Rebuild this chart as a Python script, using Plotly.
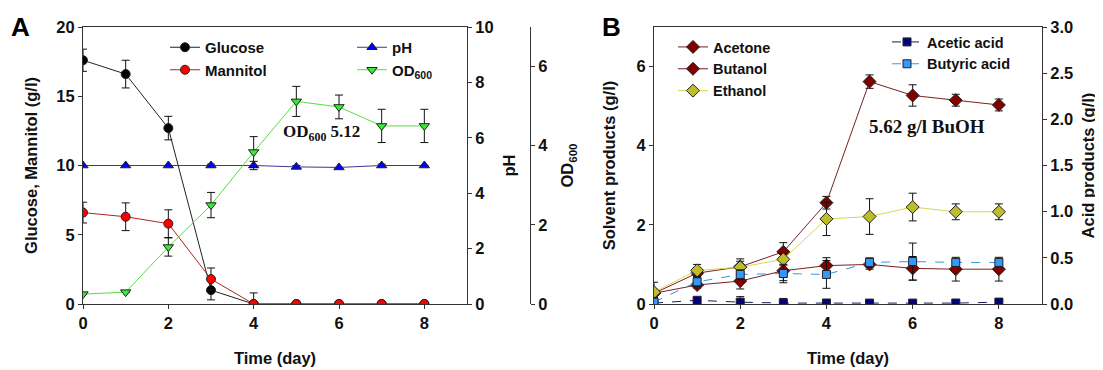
import plotly.graph_objects as go

days = [0, 1, 2, 3, 4, 5, 6, 7, 8]

# Panel A
glucose = [17.6, 16.6, 12.7, 1.0, 0, 0, 0, 0, 0]
glucose_err = [0.8, 1.0, 0.85, 0.7, 0.8, 0, 0, 0, 0]
glucose_err_minus = [0.8, 1.0, 0.85, 0.7, 0, 0, 0, 0, 0]
mannitol = [6.6, 6.3, 5.8, 1.8, 0, 0, 0, 0, 0]
mannitol_err = [0.75, 1.0, 1.0, 0.8, 0, 0, 0, 0, 0]
ph = [5.0, 5.0, 5.0, 5.0, 5.0, 4.95, 4.93, 5.0, 5.0]
ph_err = [0, 0, 0, 0.05, 0.15, 0.05, 0, 0.05, 0]
od600 = [0.25, 0.3, 1.44, 2.5, 3.84, 5.12, 4.98, 4.5, 4.5]
od600_err = [0, 0, 0.23, 0.32, 0.39, 0.38, 0.3, 0.42, 0.42]

# Panel B
acetone = [0.27, 0.48, 0.58, 0.84, 0.97, 1.0, 0.9, 0.88, 0.88]
acetone_err = [0.28, 0.08, 0.2, 0.25, 0.2, 0.12, 0.3, 0.3, 0.3]
butanol = [0.27, 0.78, 0.94, 1.32, 2.56, 5.62, 5.27, 5.15, 5.03]
butanol_err = [0.1, 0.1, 0.2, 0.23, 0.16, 0.17, 0.27, 0.15, 0.15]
ethanol = [0.3, 0.85, 0.93, 1.13, 2.15, 2.21, 2.45, 2.33, 2.33]
ethanol_err = [0, 0.15, 0.15, 0.15, 0.42, 0.45, 0.35, 0.2, 0.2]
acetic = [0.01, 0.04, 0.02, 0.01, 0.01, 0.01, 0.01, 0.01, 0.02]
acetic_err = [0, 0, 0.06, 0.05, 0.04, 0.02, 0.0, 0.04, 0.04]
butyric = [0.02, 0.24, 0.32, 0.33, 0.32, 0.45, 0.46, 0.45, 0.45]
butyric_err = [0.05, 0.05, 0.05, 0.1, 0.15, 0.05, 0.2, 0.03, 0.03]

FONT = "Arial, Liberation Sans, sans-serif"
SERIF = "Times New Roman, Liberation Serif, serif"

def err(arr, minus=None):
    d = dict(type="data", array=arr, visible=True, color="#111", thickness=1, width=4)
    if minus is not None:
        d["symmetric"] = False
        d["arrayminus"] = minus
    return d

def mk(sym, color, size=9):
    return dict(symbol=sym, color=color, size=size, line=dict(color="#222", width=1))

fig = go.Figure()

fig.add_trace(go.Scatter(x=days, y=glucose, name="Glucose", mode="lines+markers",
                         line=dict(color="#222", width=1), marker=mk("circle", "#000"),
                         error_y=err(glucose_err, glucose_err_minus), xaxis="x", yaxis="y", legend="legend"))
fig.add_trace(go.Scatter(x=days, y=mannitol, name="Mannitol", mode="lines+markers",
                         line=dict(color="#B22222", width=1), marker=mk("circle", "#FF0000"),
                         error_y=err(mannitol_err), xaxis="x", yaxis="y", legend="legend"))
fig.add_trace(go.Scatter(x=days, y=ph, name="pH", mode="lines+markers",
                         line=dict(color="#3A3A8A", width=1), marker=mk("triangle-up", "#0000FF"),
                         error_y=err(ph_err), xaxis="x", yaxis="y2", legend="legend2"))
fig.add_trace(go.Scatter(x=days, y=od600, name="OD<sub>600</sub>", mode="lines+markers",
                         line=dict(color="#55DD44", width=1), marker=mk("triangle-down", "#33EE33"),
                         error_y=err(od600_err), xaxis="x", yaxis="y3", legend="legend2"))

fig.add_trace(go.Scatter(x=days, y=acetone, name="Acetone", mode="lines+markers",
                         line=dict(color="#7A2020", width=1), marker=mk("diamond", "#800000", 10),
                         error_y=err(acetone_err), xaxis="x2", yaxis="y4", legend="legend3"))
fig.add_trace(go.Scatter(x=days, y=butanol, name="Butanol", mode="lines+markers",
                         line=dict(color="#7A2020", width=1), marker=mk("diamond", "#800000", 10),
                         error_y=err(butanol_err), xaxis="x2", yaxis="y4", legend="legend3"))
fig.add_trace(go.Scatter(x=days, y=ethanol, name="Ethanol", mode="lines+markers",
                         line=dict(color="#D8D850", width=1), marker=mk("diamond", "#BDBD2E", 10),
                         error_y=err(ethanol_err), xaxis="x2", yaxis="y4", legend="legend3"))
fig.add_trace(go.Scatter(x=days, y=acetic, name="Acetic acid", mode="lines+markers",
                         line=dict(color="#1A1A5A", width=1, dash="dash"), marker=mk("square", "#000080", 8),
                         error_y=err(acetic_err), xaxis="x2", yaxis="y5", legend="legend4"))
fig.add_trace(go.Scatter(x=days, y=butyric, name="Butyric acid", mode="lines+markers",
                         line=dict(color="#3399DD", width=1, dash="dash"), marker=mk("square", "#3399FF", 8),
                         error_y=err(butyric_err), xaxis="x2", yaxis="y5", legend="legend4"))

W, H = 1103, 370
OFF = 8  # page body margin
def px(v):
    return (v - OFF) / W
def py(v):
    return 1 - (v - OFF) / H

tickfont = dict(family=FONT, size=16.5, color="#111", weight="bold")
titlefont = dict(family=FONT, size=16.5, color="#111", weight="bold")
axcommon = dict(showgrid=False, zeroline=False, showline=True, linecolor="#333", linewidth=1,
                ticks="outside", ticklen=4, tickcolor="#333", tickfont=tickfont, automargin=False)

ydom = [py(304), py(27)]
fig.update_layout(
    width=W, height=H, margin=dict(l=0, r=0, t=0, b=0, autoexpand=False),
    paper_bgcolor="white", plot_bgcolor="white",
    xaxis=dict(domain=[px(83), px(467)], range=[0, 9], tickvals=[0, 2, 4, 6, 8], mirror=True,
               title=dict(text="Time (day)", font=titlefont, standoff=21), anchor="y", **axcommon),
    yaxis=dict(domain=ydom, range=[0, 20], tickvals=[0, 5, 10, 15, 20], anchor="x",
               title=dict(text="Glucose, Mannitol (g/l)", font=titlefont, standoff=14), **axcommon),
    yaxis2=dict(range=[0, 10], tickvals=[0, 2, 4, 6, 8, 10], overlaying="y", side="right", anchor="x",
                title=dict(text="pH", font=titlefont, standoff=10), **axcommon),
    yaxis3=dict(range=[0, 7], tickvals=[0, 2, 4, 6], overlaying="y", side="right", anchor="free",
                position=px(530), title=dict(text="OD<sub>600</sub>", font=titlefont, standoff=14), **axcommon),
    xaxis2=dict(domain=[px(654), px(1042)], range=[0, 9], tickvals=[0, 2, 4, 6, 8], mirror=True,
                title=dict(text="Time (day)", font=titlefont, standoff=21), anchor="y4", **axcommon),
    yaxis4=dict(domain=ydom, range=[0, 7], tickvals=[0, 2, 4, 6], anchor="x2",
                title=dict(text="Solvent products (g/l)", font=titlefont, standoff=16), **axcommon),
    yaxis5=dict(range=[0, 3], tickvals=[0, 0.5, 1, 1.5, 2, 2.5, 3], tickformat=".1f",
                overlaying="y4", side="right", anchor="x2",
                title=dict(text="Acid products (g/l)", font=titlefont, standoff=10), **axcommon),
)

legcommon = dict(bgcolor="rgba(0,0,0,0)", borderwidth=0, xanchor="left", yanchor="top",
                 itemclick=False, tracegroupgap=0)
fontA = dict(family=FONT, size=15, color="#111", weight="bold")
fontB = dict(family=FONT, size=14.5, color="#111", weight="bold")
fig.update_layout(
    legend=dict(x=px(165), y=py(31), font=fontA, **legcommon),
    legend2=dict(x=px(352), y=py(31), font=fontA, **legcommon),
    legend3=dict(x=px(673), y=py(31), font=fontB, **legcommon),
    legend4=dict(x=px(887), y=py(26), font=fontB, **legcommon),
)

fig.add_annotation(x=5.6, y=4.32, xref="x", yref="y3", text="OD<sub>600</sub> 5.12", showarrow=False,
                   font=dict(family=SERIF, size=17, color="#111", weight="bold"), xanchor="center")
fig.add_annotation(x=6.33, y=4.48, xref="x2", yref="y4", text="5.62 g/l BuOH", showarrow=False,
                   font=dict(family=SERIF, size=19, color="#111", weight="bold"), xanchor="center")
fig.add_annotation(x=px(9), y=py(10), xref="paper", yref="paper", text="A", showarrow=False,
                   xanchor="left", yanchor="top", font=dict(family=FONT, size=26, color="#000", weight="bold"))
fig.add_annotation(x=px(600), y=py(10), xref="paper", yref="paper", text="B", showarrow=False,
                   xanchor="left", yanchor="top", font=dict(family=FONT, size=26, color="#000", weight="bold"))

fig.write_html("out.html")
